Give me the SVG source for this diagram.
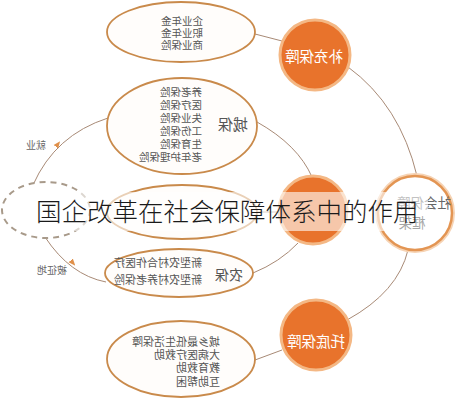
<svg xmlns="http://www.w3.org/2000/svg" width="455" height="400" viewBox="0 0 455 400">
<defs>
<style>
.ell{fill:#fffdfb;stroke:#c98a4b;stroke-width:1.8}
.orb{fill:#e8732c;stroke:#f4b885;stroke-width:3}
.con{fill:none;stroke:#a88a76;stroke-width:1}
.it{font-family:"Noto Sans CJK SC","Noto Sans",sans-serif;font-size:10.5px;fill:#555}
.lb{font-family:"Noto Sans CJK SC","Noto Sans",sans-serif;font-size:15px;fill:#555}
.ot{font-family:"Noto Sans CJK SC","Noto Sans",sans-serif;font-size:14.5px;fill:#fff;text-anchor:middle}
.sm{font-family:"Noto Sans CJK SC","Noto Sans",sans-serif;font-size:10px;fill:#666;text-anchor:middle}
</style>
<marker id="ah" viewBox="0 0 10 10" refX="5" refY="5" markerWidth="7" markerHeight="7" orient="auto">
<path d="M0,1 L10,5 L0,9 z" fill="#e0904a"/>
</marker>
</defs>
<rect width="455" height="400" fill="#ffffff"/>
<g id="connectors">
<path class="con" d="M255,34 L282,41"/>
<path class="con" d="M348,67 Q400,105 417,176"/>
<path class="con" d="M408,250 Q398,292 347,320"/>
<path class="con" d="M257,122 Q298,145 312,177"/>
<path class="con" d="M257,212 L279,212"/>
<path class="con" d="M253,273 Q280,262 298,243"/>
<path class="con" d="M255,360 L282,350"/>
<path class="con" d="M33,185 Q55,135 108,118"/>
<path class="con" d="M45,237 Q70,275 106,282"/>
<path d="M52,152 L58,144" stroke="none" fill="none" marker-end="url(#ah)"/>
<path d="M66,255 L73,263" stroke="none" fill="none" marker-end="url(#ah)"/>
</g>
<g id="n-top">
<ellipse class="ell" cx="181" cy="32" rx="74" ry="30"/>
<text class="it" transform="matrix(-1 0 0 1 203 25)">企业年金</text>
<text class="it" transform="matrix(-1 0 0 1 203 37)">职业年金</text>
<text class="it" transform="matrix(-1 0 0 1 203 49)">商业保险</text>
</g>
<g id="n-supp">
<circle class="orb" cx="315" cy="55" r="35"/>
<text class="ot" transform="matrix(-1 0 0 1 314 62)">补充保障</text>
</g>
<g id="n-city">
<ellipse class="ell" cx="182" cy="126" rx="75" ry="48"/>
<text class="it" transform="matrix(-1 0 0 1 202 96)">养老保险</text>
<text class="it" transform="matrix(-1 0 0 1 202 109)">医疗保险</text>
<text class="it" transform="matrix(-1 0 0 1 202 122)">失业保险</text>
<text class="it" transform="matrix(-1 0 0 1 202 135)">工伤保险</text>
<text class="it" transform="matrix(-1 0 0 1 202 148)">生育保险</text>
<text class="it" transform="matrix(-1 0 0 1 202 161)">老年护理保险</text>
<text class="lb" transform="matrix(-1 0 0 1 248 130)">城保</text>
</g>
<g id="n-mid">
<ellipse class="ell" cx="182" cy="212" rx="75" ry="27"/>
</g>
<g id="n-basic">
<circle class="orb" cx="313" cy="210" r="34"/>
</g>
<g id="n-rural">
<ellipse class="ell" cx="179" cy="273" rx="74" ry="24"/>
<text class="it" style="font-size:11px" transform="matrix(-1 0 0 1 202 267)">新型农村合作医疗</text>
<text class="it" style="font-size:11px" transform="matrix(-1 0 0 1 202 284)">新型农村养老保险</text>
<text class="lb" style="font-size:14px" transform="matrix(-1 0 0 1 243 280)">农保</text>
</g>
<g id="n-bottom">
<ellipse class="ell" cx="181" cy="359" rx="74" ry="38"/>
<text class="it" style="font-size:11px" transform="matrix(-1 0 0 1 220 346)">城乡最低生活保障</text>
<text class="it" style="font-size:11px" transform="matrix(-1 0 0 1 220 359)">大病医疗救助</text>
<text class="it" style="font-size:11px" transform="matrix(-1 0 0 1 220 372)">教育救助</text>
<text class="it" style="font-size:11px" transform="matrix(-1 0 0 1 220 386)">互助帮困</text>
</g>
<g id="n-floor">
<circle class="orb" cx="316" cy="335" r="35"/>
<text class="ot" transform="matrix(-1 0 0 1 316 347)">托底保障</text>
</g>
<g id="n-frame">
<circle cx="415" cy="213" r="37" fill="#ffffff" stroke="#f6d3b4" stroke-width="6"/>
<circle cx="415" cy="213" r="37" fill="#ffffff" stroke="#e39553" stroke-width="2.5"/>
<text class="lb" style="font-size:13.5px;fill:#666" transform="matrix(-1 0 0 1 451 208)">社会保障</text>
<text class="lb" style="font-size:13.5px;fill:#222;text-anchor:middle" transform="matrix(-1 0 0 1 412 228)">框架</text>
</g>
<g id="n-soe">
<ellipse cx="46" cy="210" rx="44" ry="28" fill="#ffffff" stroke="#a89a8a" stroke-width="2" stroke-dasharray="6 5"/>
</g>
<g id="labels">
<text class="sm" transform="matrix(-1 0 0 1 36 149)">就业</text>
<text class="sm" transform="matrix(-1 0 0 1 52 274)">被征地</text>
</g>
<g id="title">
<rect x="24" y="192" width="404" height="39" fill="#ffffff" fill-opacity="0.6"/>
<text x="36" y="221" font-family="'Noto Sans CJK SC','Noto Sans',sans-serif" font-weight="300" font-size="25.5" fill="#1a1a1a">国企改革在社会保障体系中的作用</text>
</g>
</svg>
